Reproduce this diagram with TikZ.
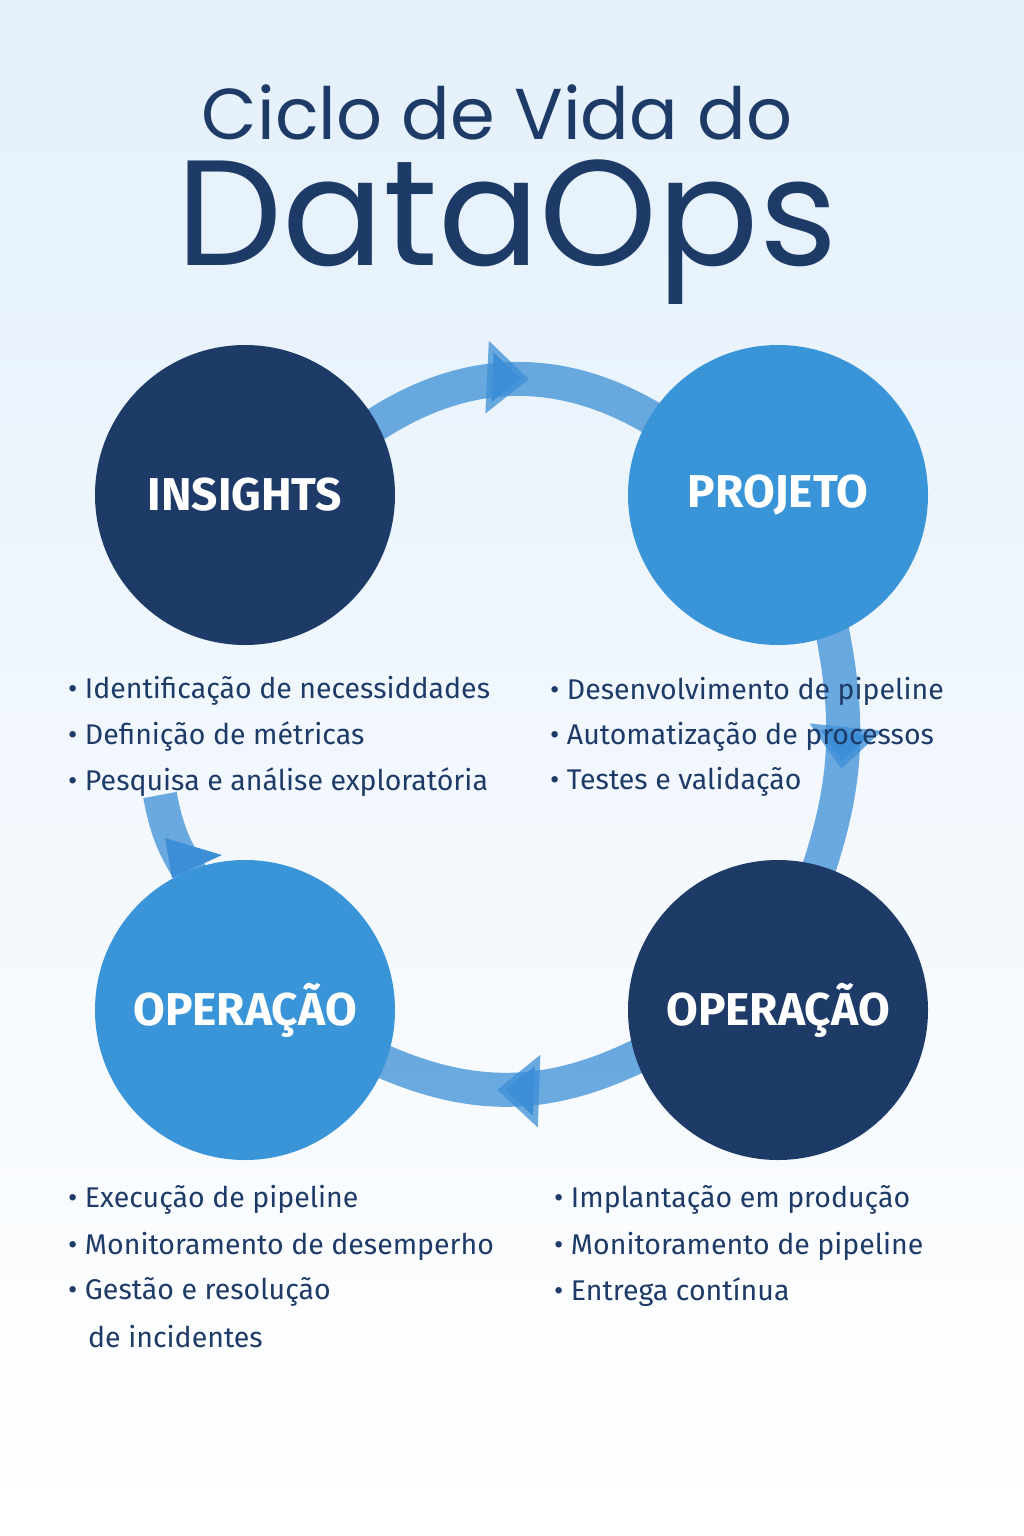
\documentclass[tikz,border=0pt]{standalone}
\usepackage{fontspec}
\setmainfont{Poppins}
\newfontfamily\bodyfont{Fira Sans}
\usetikzlibrary{positioning, arrows.meta, decorations.markings}

\definecolor{navy}{HTML}{1E3B68}
\definecolor{sky}{HTML}{3A95D8}
\definecolor{flow}{HTML}{3C8FD6}
\definecolor{bgtop}{HTML}{E4F0FB}

\tikzset{
  phase/.style={circle, minimum size=300pt, inner sep=0pt, font=\bodyfont\fontsize{46}{50}\selectfont\bfseries, text=white},
  item/.style={anchor=west, font=\bodyfont\fontsize{28.5}{32}\selectfont, text=navy, inner sep=0pt},
  flowline/.style={line width=34pt, draw=flow, draw opacity=0.75},
  cyclearrow/.style={flowline,
    postaction={decorate, decoration={markings,
      mark=at position 0.55 with {\arrow[flow]{Triangle[width=70pt,length=42pt]}}}}}
}

\begin{document}
\begin{tikzpicture}[x=1pt, y=-1pt]
  % background
  \shade[top color=bgtop, bottom color=white] (0,0) rectangle (1024,1536);
  \useasboundingbox (0,0) rectangle (1024,1536);

  % title
  \node[text=navy, font=\fontsize{72}{80}\selectfont] (t1) at (497,112) {Ciclo de Vida do};
  \node[text=navy, font=\fontsize{150}{160}\selectfont] (t2) at (507,232) {DataOps};

  % phases (coordinates only, arrows go behind)
  \coordinate (cinsights) at (245,495);
  \coordinate (cprojeto) at (778,495);
  \coordinate (copesq) at (245,1010);
  \coordinate (copdir) at (778,1010);

  % arrows
  \coordinate (lstart) at (160,795);
  \coordinate (rstart) at (832,630);
  \draw[cyclearrow] (375,425) to[bend left=32] (655,420);
  \draw[cyclearrow] (rstart) to[bend left=15] (815,880);
  \draw[cyclearrow] (640,1055) to[bend left=25] (380,1060);
  \draw[flowline] (lstart) to[bend right=12] (195,880);
  \fill[flow] (165,838) -- (222,855) -- (172,878) -- cycle;

  % circles
  \node[phase, fill=navy] (insights) at (cinsights) {INSIGHTS};
  \node[phase, fill=sky] (projeto) at (cprojeto) {PROJETO};
  \node[phase, fill=sky] (opesq) at (copesq) {OPERAÇÃO};
  \node[phase, fill=navy] (opdir) at (copdir) {OPERAÇÃO};

  % lists
  \node[item] (a1) at (68,691) {• Identificação de necessiddades};
  \node[item] (a2) at (68,737) {• Definição de métricas};
  \node[item] (a3) at (68,782) {• Pesquisa e análise exploratória};

  \node[item] (b1) at (550,691) {• Desenvolvimento de pipeline};
  \node[item] (b2) at (550,737) {• Automatização de processos};
  \node[item] (b3) at (550,782) {• Testes e validação};

  \node[item] (c1) at (68,1200) {• Execução de pipeline};
  \node[item] (c2) at (68,1246) {• Monitoramento de desemperho};
  \node[item] (c3) at (68,1292) {• Gestão e resolução};
  \node[item] (c4) at (88,1337) {de incidentes};

  \node[item] (d1) at (554,1200) {• Implantação em produção};
  \node[item] (d2) at (554,1246) {• Monitoramento de pipeline};
  \node[item] (d3) at (554,1292) {• Entrega contínua};
\end{tikzpicture}
\end{document}
